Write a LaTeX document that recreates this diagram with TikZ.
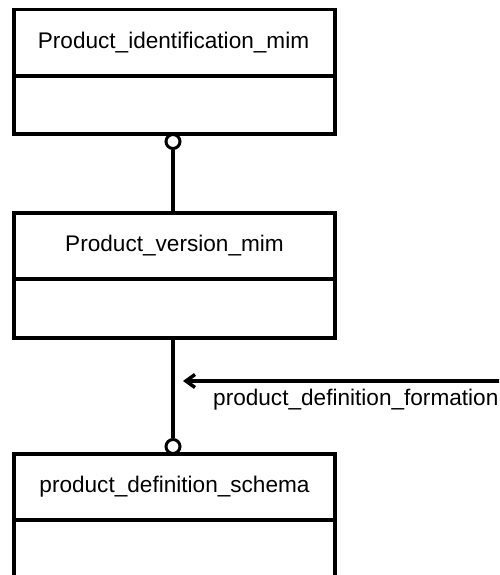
\documentclass[tikz,border=0pt]{standalone}
\usepackage{fontspec}
\setmainfont{Liberation Sans}
\usetikzlibrary{arrows.meta}
\tikzset{
  entity/.style={draw, line width=3.5pt, rectangle, minimum width=321pt, inner sep=0pt},
  title/.style={font=\fontsize{22.6}{27}\selectfont, inner sep=0pt},
  conn/.style={line width=3.5pt},
  ring/.style={draw, circle, line width=3pt, minimum size=14pt, inner sep=0pt, fill=white},
}
\begin{document}
\begin{tikzpicture}[x=1pt,y=-1pt]
\useasboundingbox (0,0) rectangle (499,575);
\clip (0,0) rectangle (499,575);
% box 1
\node[entity, minimum height=124.5pt] (b1) at (174.5,71.75) {};
\draw[conn] (14,76) -- (335,76);
\node[title] (t1) at (173.5,42.5) {Product\_identification\_mim};
% box 2
\node[entity, minimum height=125pt] (b2) at (174.5,275.5) {};
\draw[conn] (14,279) -- (335,279);
\node[title] (t2) at (174.5,246) {Product\_version\_mim};
% box 3
\node[entity, minimum height=200pt] (b3) at (174.5,554) {};
\draw[conn] (14,520) -- (335,520);
\node[title] (t3) at (174.5,487) {product\_definition\_schema};
% connectors
\node[ring] (c1) at (173,141.5) {};
\draw[conn] (c1.south) -- (c1.south |- b2.north);
\node[ring] (c2) at (173,446.5) {};
\draw[conn] (c2.north |- b2.south) -- (c2.north);
% arrow
\coordinate (aend) at (510,381);
\coordinate (atip) at (183,381);
\draw[conn, -{Straight Barb[length=9pt,width=13pt]}] (aend) -- (atip);
\node[title, anchor=west] (lab) at (213,400) {product\_definition\_formation};
\end{tikzpicture}
\end{document}
